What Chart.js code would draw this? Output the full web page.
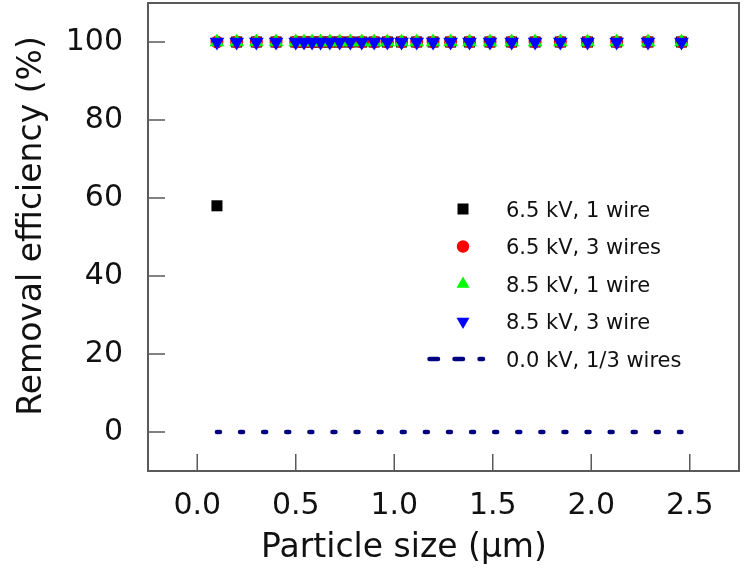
<!DOCTYPE html>
<html>
<head>
<meta charset="utf-8">
<script src="https://cdn.jsdelivr.net/npm/chart.js@4.4.1/dist/chart.umd.min.js"></script>
<style>
  html, body { margin: 0; padding: 0; background: #fff; }
</style>
</head>
<body>
<canvas id="effChart" width="750" height="578"></canvas>
<script>
// particle size channels (um)
const particleSize = [0.1, 0.2, 0.3, 0.4, 0.5, 0.542, 0.583, 0.626, 0.673, 0.723, 0.777, 0.835, 0.898, 0.965,
    1.037, 1.114, 1.197, 1.286, 1.382, 1.486, 1.596, 1.715, 1.843, 1.981, 2.129, 2.288, 2.458];

// removal efficiency (%)
const eff65kV1wire = [58, 100, 100, 100, 100, 100, 100, 100, 100, 100, 100, 100, 100, 100,
    100, 100, 100, 100, 100, 100, 100, 100, 100, 100, 100, 100, 100];
const eff65kV3wires = [100, 100, 100, 100, 100, 100, 100, 100, 100, 100, 100, 100, 100, 100,
    100, 100, 100, 100, 100, 100, 100, 100, 100, 100, 100, 100, 100];
const eff85kV1wire = [100, 100, 100, 100, 100, 100, 100, 100, 100, 100, 100, 100, 100, 100,
    100, 100, 100, 100, 100, 100, 100, 100, 100, 100, 100, 100, 100];
const eff85kV3wire = [100, 100, 100, 100, 100, 100, 100, 100, 100, 100, 100, 100, 100, 100,
    100, 100, 100, 100, 100, 100, 100, 100, 100, 100, 100, 100, 100];
const eff00kV = [0, 0, 0, 0, 0, 0, 0, 0, 0, 0, 0, 0, 0, 0,
    0, 0, 0, 0, 0, 0, 0, 0, 0, 0, 0, 0, 0];

const xTicks = [0.0, 0.5, 1.0, 1.5, 2.0, 2.5];
const yTicks = [0, 20, 40, 60, 80, 100];

const seriesNames = ['6.5 kV, 1 wire', '6.5 kV, 3 wires', '8.5 kV, 1 wire', '8.5 kV, 3 wire', '0.0 kV, 1/3 wires'];
const xTitle = 'Particle size (µm)';
const yTitle = 'Removal efficiency (%)';

function toPoints(ys) {
    return particleSize.map((x, i) => ({ x: x, y: ys[i] }));
}

const FONT = "'DejaVu Sans', 'Liberation Sans', sans-serif";
const AXIS = '#5a5a5a';

// frame + inward ticks
const frameTicks = {
    id: 'frameTicks',
    beforeDatasetsDraw(chart) {
        const { ctx, chartArea: a, scales } = chart;
        ctx.save();
        ctx.strokeStyle = AXIS;
        ctx.lineWidth = 2;
        ctx.strokeRect(a.left, a.top, a.right - a.left, a.bottom - a.top);
        ctx.lineWidth = 1.5;
        ctx.beginPath();
        xTicks.forEach(v => {
            const px = scales.x.getPixelForValue(v);
            ctx.moveTo(px, a.bottom);
            ctx.lineTo(px, a.bottom - 17);
        });
        yTicks.forEach(v => {
            const py = scales.y.getPixelForValue(v);
            ctx.moveTo(a.left, py);
            ctx.lineTo(a.left + 17, py);
        });
        ctx.stroke();
        ctx.restore();
    }
};

// axis titles (the originals sit a bit off the axis centre)
const axisTitles = {
    id: 'axisTitles',
    afterDraw(chart) {
        const ctx = chart.ctx;
        ctx.save();
        ctx.font = '33px ' + FONT;
        ctx.fillStyle = '#111';
        ctx.textAlign = 'center';
        ctx.textBaseline = 'middle';
        ctx.fillText(xTitle, 404, 548);
        ctx.translate(32, 226);
        ctx.rotate(-Math.PI / 2);
        ctx.fillText(yTitle, 0, 0);
        ctx.restore();
    }
};

// legend drawn inside the plot
const innerLegend = {
    id: 'innerLegend',
    afterDraw(chart) {
        const ctx = chart.ctx;
        const mx = 463, tx = 506, y0 = 209, dy = 37.5;
        ctx.save();
        ctx.font = '21px ' + FONT;
        ctx.fillStyle = '#111';
        ctx.textBaseline = 'alphabetic';
        seriesNames.forEach((name, i) => {
            ctx.fillText(name, tx, y0 + i * dy + 7.6);
        });

        let y = y0;
        ctx.fillStyle = '#000000';
        ctx.fillRect(mx - 5.5, y - 5.5, 11, 11);

        y += dy;
        ctx.fillStyle = '#ff0000';
        ctx.beginPath();
        ctx.arc(mx, y, 6.2, 0, Math.PI * 2);
        ctx.fill();

        y += dy;
        ctx.fillStyle = '#00ff00';
        ctx.beginPath();
        ctx.moveTo(mx, y - 7.5);
        ctx.lineTo(mx + 6.5, y + 3.75);
        ctx.lineTo(mx - 6.5, y + 3.75);
        ctx.closePath();
        ctx.fill();

        y += dy;
        ctx.fillStyle = '#0000ff';
        ctx.beginPath();
        ctx.moveTo(mx, y + 7.5);
        ctx.lineTo(mx + 6.5, y - 3.75);
        ctx.lineTo(mx - 6.5, y - 3.75);
        ctx.closePath();
        ctx.fill();

        y += dy;
        ctx.strokeStyle = '#000080';
        ctx.lineWidth = 4.5;
        ctx.lineCap = 'round';
        ctx.setLineDash([8.5, 16.5]);
        ctx.beginPath();
        ctx.moveTo(429.5, y);
        ctx.lineTo(483, y);
        ctx.stroke();
        ctx.restore();
    }
};

new Chart(document.getElementById('effChart'), {
    type: 'scatter',
    data: {
        datasets: [{
            label: seriesNames[0],
            data: toPoints(eff65kV1wire),
            pointStyle: 'rect',
            pointRadius: 7.8,
            backgroundColor: '#000000',
            borderColor: '#000000',
            borderWidth: 0,
            order: 3
        }, {
            label: seriesNames[1],
            data: toPoints(eff65kV3wires),
            pointStyle: 'circle',
            pointRadius: 6.5,
            backgroundColor: '#ff0000',
            borderColor: '#ff0000',
            borderWidth: 0,
            order: 2
        }, {
            label: seriesNames[2],
            data: toPoints(eff85kV1wire),
            pointStyle: 'triangle',
            pointRadius: 8.5,
            backgroundColor: '#00ff00',
            borderColor: '#00ff00',
            borderWidth: 0,
            order: 1
        }, {
            label: seriesNames[3],
            data: toPoints(eff85kV3wire),
            pointStyle: 'triangle',
            pointRotation: 180,
            pointRadius: 8.5,
            backgroundColor: '#0000ff',
            borderColor: '#0000ff',
            borderWidth: 0,
            order: 0
        }, {
            type: 'line',
            label: seriesNames[4],
            data: toPoints(eff00kV),
            showLine: true,
            pointRadius: 0,
            borderColor: '#000080',
            borderWidth: 4.5,
            borderDash: [3, 20.1],
            borderCapStyle: 'round',
            fill: false,
            order: 4
        }]
    },
    options: {
        responsive: false,
        animation: false,
        events: [],
        layout: { autoPadding: false, padding: { top: 3, right: 11, left: 0, bottom: 0 } },
        plugins: {
            legend: { display: false },
            tooltip: { enabled: false }
        },
        scales: {
            x: {
                type: 'linear',
                min: -0.25,
                max: 2.75,
                afterFit: s => { s.height = 107; s.paddingLeft = 0; s.paddingRight = 0; },
                afterBuildTicks: s => { s.ticks = xTicks.map(v => ({ value: v })); },
                grid: { display: false, drawTicks: false },
                border: { display: false },
                ticks: {
                    padding: 17,
                    color: '#111',
                    font: { family: FONT, size: 30 },
                    callback: v => Number(v).toFixed(1)
                },
                title: { display: false }
            },
            y: {
                type: 'linear',
                min: -10,
                max: 110,
                afterFit: s => { s.width = 148; s.paddingTop = 0; s.paddingBottom = 0; },
                afterBuildTicks: s => { s.ticks = yTicks.map(v => ({ value: v })); },
                grid: { display: false, drawTicks: false },
                border: { display: false },
                ticks: {
                    padding: 25,
                    color: '#111',
                    font: { family: FONT, size: 30 },
                    callback: v => String(v)
                },
                title: { display: false }
            }
        }
    },
    plugins: [frameTicks, axisTitles, innerLegend]
});
</script>
</body>
</html>
